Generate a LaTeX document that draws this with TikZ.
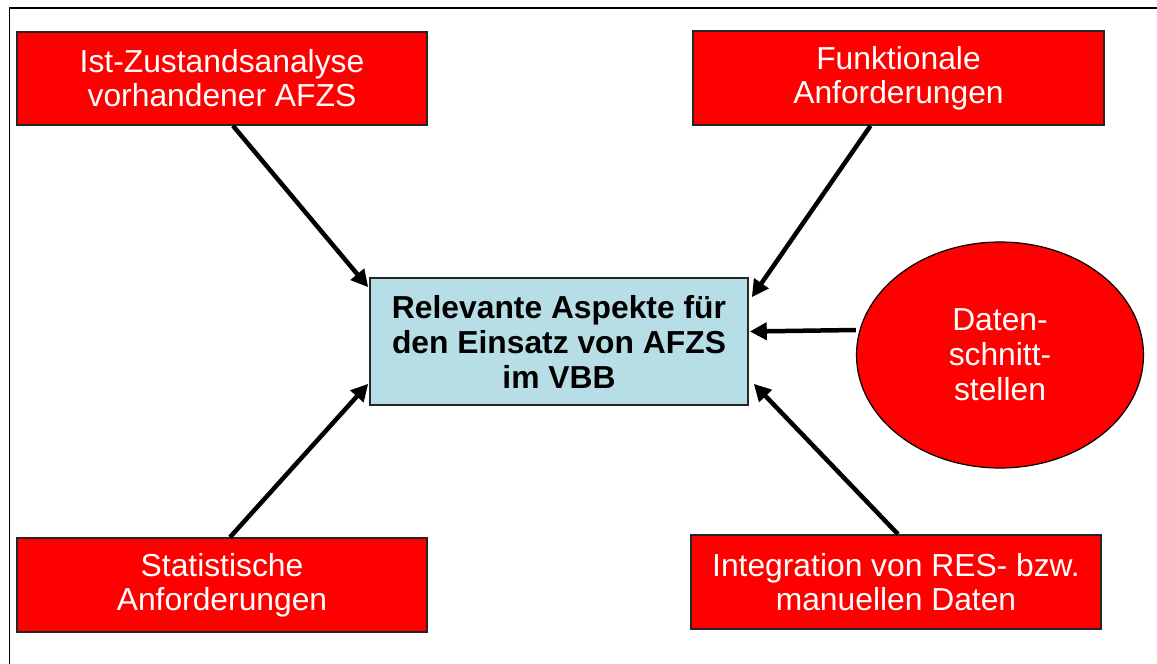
\documentclass[tikz,border=0pt]{standalone}
\usepackage{fontspec}
\setmainfont{Liberation Sans}
\usetikzlibrary{arrows.meta,shapes.geometric,calc}
\definecolor{boxred}{RGB}{255,0,0}
\definecolor{boxblue}{RGB}{183,222,230}
\begin{document}
\begin{tikzpicture}[x=1pt,y=-1pt,
  redbox/.style={draw=black!85, line width=1.6pt, fill=boxred, text=white, align=center,
    inner sep=0pt, font=\fontsize{31.8}{34}\selectfont},
  centerbox/.style={draw=black!85, line width=1.6pt, fill=boxblue, text=black, align=center,
    inner sep=0pt, font=\fontsize{31.8}{35}\selectfont\bfseries,
    minimum width=378pt, minimum height=127pt},
  redoval/.style={ellipse, draw=black, line width=1.2pt, fill=boxred, text=white, align=center,
    inner sep=0pt, font=\fontsize{31.8}{35}\selectfont, minimum width=287pt, minimum height=226pt},
  arr/.style={line width=4.5pt, -{Triangle[length=17pt,width=17pt]}}
]
\useasboundingbox (0,0) rectangle (1157,664);
\fill[white] (0,0) rectangle (1157,664);
\draw[line width=1.6pt, black] (9.5,664) -- (9.5,8) -- (1157,8);

\node[redbox, minimum width=410pt, minimum height=93pt] (ist) at (222,78.5)
  {Ist-Zustandsanalyse\\vorhandener AFZS};
\node[redbox, minimum width=411pt, minimum height=94pt] (funk) at (898.5,78)
  {Funktionale\\Anforderungen};
\node[redbox, minimum width=410pt, minimum height=94pt] (stat) at (222,585)
  {Statistische\\Anforderungen};
\node[redbox, minimum width=410pt, minimum height=94pt] (integ) at (896,582)
  {Integration von RES- bzw.\\manuellen Daten};
\node[centerbox] (rel) at (559,341.5)
  {Relevante Aspekte für\\den Einsatz von AFZS\\im VBB};
\node[redoval] (daten) at (1000,355) {Daten-\\schnitt-\\stellen};

\draw[arr] ($(ist.south)+(11,0)$) -- ($(rel.north west)+(-1,10)$);
\draw[arr] ($(funk.south)+(-28,0)$) -- ($(rel.north east)+(3,20)$);
\draw[arr] (daten.west |- 0,330) -- ($(rel.east)+(1,-10)$);
\draw[arr] ($(stat.north)+(8,0)$) -- ($(rel.south west)+(-1,-22)$);
\draw[arr] ($(integ.north)+(2,0)$) -- ($(rel.south east)+(5,-22)$);
\end{tikzpicture}
\end{document}
